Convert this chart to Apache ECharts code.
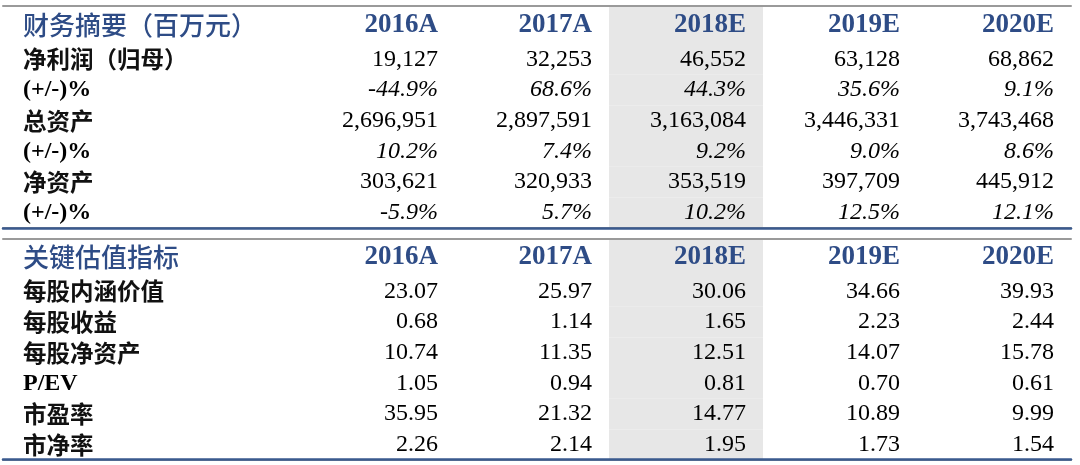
<!DOCTYPE html>
<html>
<head>
<meta charset="utf-8">
<script src="https://cdn.jsdelivr.net/npm/echarts@6/dist/echarts.min.js"></script>
<style>
  html, body { margin: 0; padding: 0; background: #fff; }
  #main { width: 1080px; height: 465px; }
</style>
</head>
<body>
<div id="main"></div>
<script>
// 表头
const years = ["2016A", "2017A", "2018E", "2019E", "2020E"];
const shadeYear = "2018E";
const finTitle = "财务摘要（百万元）";
const valTitle = "关键估值指标";

// 财务摘要
const netProfit = [19127, 32253, 46552, 63128, 68862];
const netProfitYoY = [-44.9, 68.6, 44.3, 35.6, 9.1];
const totalAssets = [2696951, 2897591, 3163084, 3446331, 3743468];
const totalAssetsYoY = [10.2, 7.4, 9.2, 9.0, 8.6];
const netAssets = [303621, 320933, 353519, 397709, 445912];
const netAssetsYoY = [-5.9, 5.7, 10.2, 12.5, 12.1];

// 关键估值指标
const evPerShare = [23.07, 25.97, 30.06, 34.66, 39.93];
const eps = [0.68, 1.14, 1.65, 2.23, 2.44];
const bvps = [10.74, 11.35, 12.51, 14.07, 15.78];
const pev = [1.05, 0.94, 0.81, 0.70, 0.61];
const pe = [35.95, 21.32, 14.77, 10.89, 9.99];
const pb = [2.26, 2.14, 1.95, 1.73, 1.54];

const finRows = [
  { name: "净利润（归母）", values: netProfit, fmt: "amt" },
  { name: "(+/-)%", values: netProfitYoY, fmt: "pct" },
  { name: "总资产", values: totalAssets, fmt: "amt" },
  { name: "(+/-)%", values: totalAssetsYoY, fmt: "pct" },
  { name: "净资产", values: netAssets, fmt: "amt" },
  { name: "(+/-)%", values: netAssetsYoY, fmt: "pct" },
];
const valRows = [
  { name: "每股内涵价值", values: evPerShare, fmt: "ratio" },
  { name: "每股收益", values: eps, fmt: "ratio" },
  { name: "每股净资产", values: bvps, fmt: "ratio" },
  { name: "P/EV", values: pev, fmt: "ratio" },
  { name: "市盈率", values: pe, fmt: "ratio" },
  { name: "市净率", values: pb, fmt: "ratio" },
];

const BLUE = "#2E4C86";
const GRAY_LINE = "#9a9a9a";
const BLUE_LINE = "#3A5A8E";
const SHADE = "#e7e7e7";
const CELL_PAD = 17;

function fmtValue(v, fmt) {
  if (fmt === "amt") return v.toLocaleString("en-US");
  if (fmt === "pct") return v.toFixed(1) + "%";
  return v.toFixed(2);
}

//单元格: 文字右对齐, 2018E列灰底
function cellSeries(xi, yi, rows, header) {
  const data = [];
  rows.forEach((row, r) => row.values.forEach((v, c) => data.push([c, r])));
  const shadeIdx = years.indexOf(shadeYear);
  return {
    type: "custom",
    xAxisIndex: xi,
    yAxisIndex: yi,
    silent: true,
    z: 1,
    data: data,
    renderItem: function (params, api) {
      const c = api.value(0);
      const r = api.value(1);
      const p = api.coord([c, r]);
      const s = api.size([1, 1]);
      const row = rows[r];
      const children = [];
      if (c === shadeIdx) {
        children.push({
          type: "rect",
          shape: { x: p[0] - s[0] / 2, y: p[1] - s[1] / 2, width: s[0], height: s[1] },
          style: { fill: SHADE },
        });
      }
      children.push({
        type: "text",
        style: {
          text: header ? row.values[c] : fmtValue(row.values[c], row.fmt),
          x: p[0] + s[0] / 2 - CELL_PAD,
          y: p[1],
          align: "right",
          verticalAlign: "middle",
          fontFamily: "Liberation Serif",
          fontSize: header ? 27 : 24,
          fontWeight: header ? "bold" : "normal",
          fontStyle: !header && row.fmt === "pct" ? "italic" : "normal",
          fill: header ? BLUE : "#000",
        },
      });
      return { type: "group", children: children };
    },
  };
}

// 横线用的坐标轴
function ruleAxis(grid, pos, offset, color, width) {
  return {
    type: "value", gridIndex: grid, position: pos, offset: offset, min: 0, max: 1,
    z: 5,
    axisLine: { show: true, lineStyle: { color: color, width: width } },
    axisTick: { show: false }, axisLabel: { show: false }, splitLine: { show: false },
  };
}
function hiddenValueY(grid) {
  return {
    type: "value", gridIndex: grid, min: 0, max: 1, show: false,
  };
}
function catX(grid) {
  return { type: "category", gridIndex: grid, data: years, show: false };
}
function labelY(grid, names, isTitle) {
  return {
    type: "category", gridIndex: grid, data: names, inverse: true,
    axisLine: { show: false }, axisTick: { show: false }, splitLine: { show: false },
    axisLabel: {
      align: "left",
      margin: 278,
      formatter: function (v) {
        if (isTitle) return "{t|" + v + "}";
        return /[\u4e00-\u9fff]/.test(v) ? "{c|" + v + "}" : "{l|" + v + "}";
      },
      rich: {
        t: { fontFamily: "Noto Sans CJK SC", fontSize: 26, fontWeight: 500, color: BLUE },
        c: { fontFamily: "Noto Sans CJK SC", fontSize: 23.5, fontWeight: "bold", color: "#111" },
        l: { fontFamily: "Liberation Serif", fontSize: 24, fontWeight: "bold", color: "#000" },
      },
    },
  };
}

const finHead = [{ name: finTitle, values: years }];
const valHead = [{ name: valTitle, values: years }];

const option = {
  backgroundColor: "#fff",
  animation: false,
  grid: [
    { left: 3, right: 9, top: 41, bottom: 237 },
    { left: 301, right: 9, top: 6, height: 38 },
    { left: 301, right: 9, top: 44, height: 184 },
    { left: 3, right: 9, top: 273.5, bottom: 5.5 },
    { left: 301, right: 9, top: 239, height: 37 },
    { left: 301, right: 9, top: 276, height: 184 },
  ],
  xAxis: [
    ruleAxis(0, "top", 0, GRAY_LINE, 2),
    ruleAxis(0, "top", 35, GRAY_LINE, 2),
    ruleAxis(0, "bottom", 0, BLUE_LINE, 2.5),
    catX(1),
    catX(2),
    ruleAxis(3, "top", 0, GRAY_LINE, 2),
    ruleAxis(3, "top", 35.2, GRAY_LINE, 2),
    ruleAxis(3, "bottom", 0, BLUE_LINE, 2.5),
    catX(4),
    catX(5),
  ],
  yAxis: [
    hiddenValueY(0),
    labelY(1, [finTitle], true),
    labelY(2, finRows.map((r) => r.name), false),
    hiddenValueY(3),
    labelY(4, [valTitle], true),
    labelY(5, valRows.map((r) => r.name), false),
  ],
  series: [
    cellSeries(3, 1, finHead, true),
    cellSeries(4, 2, finRows, false),
    cellSeries(8, 4, valHead, true),
    cellSeries(9, 5, valRows, false),
  ],
};

const chart = echarts.init(document.getElementById("main"));
chart.setOption(option);
window.addEventListener("resize", () => chart.resize());
</script>
</body>
</html>
